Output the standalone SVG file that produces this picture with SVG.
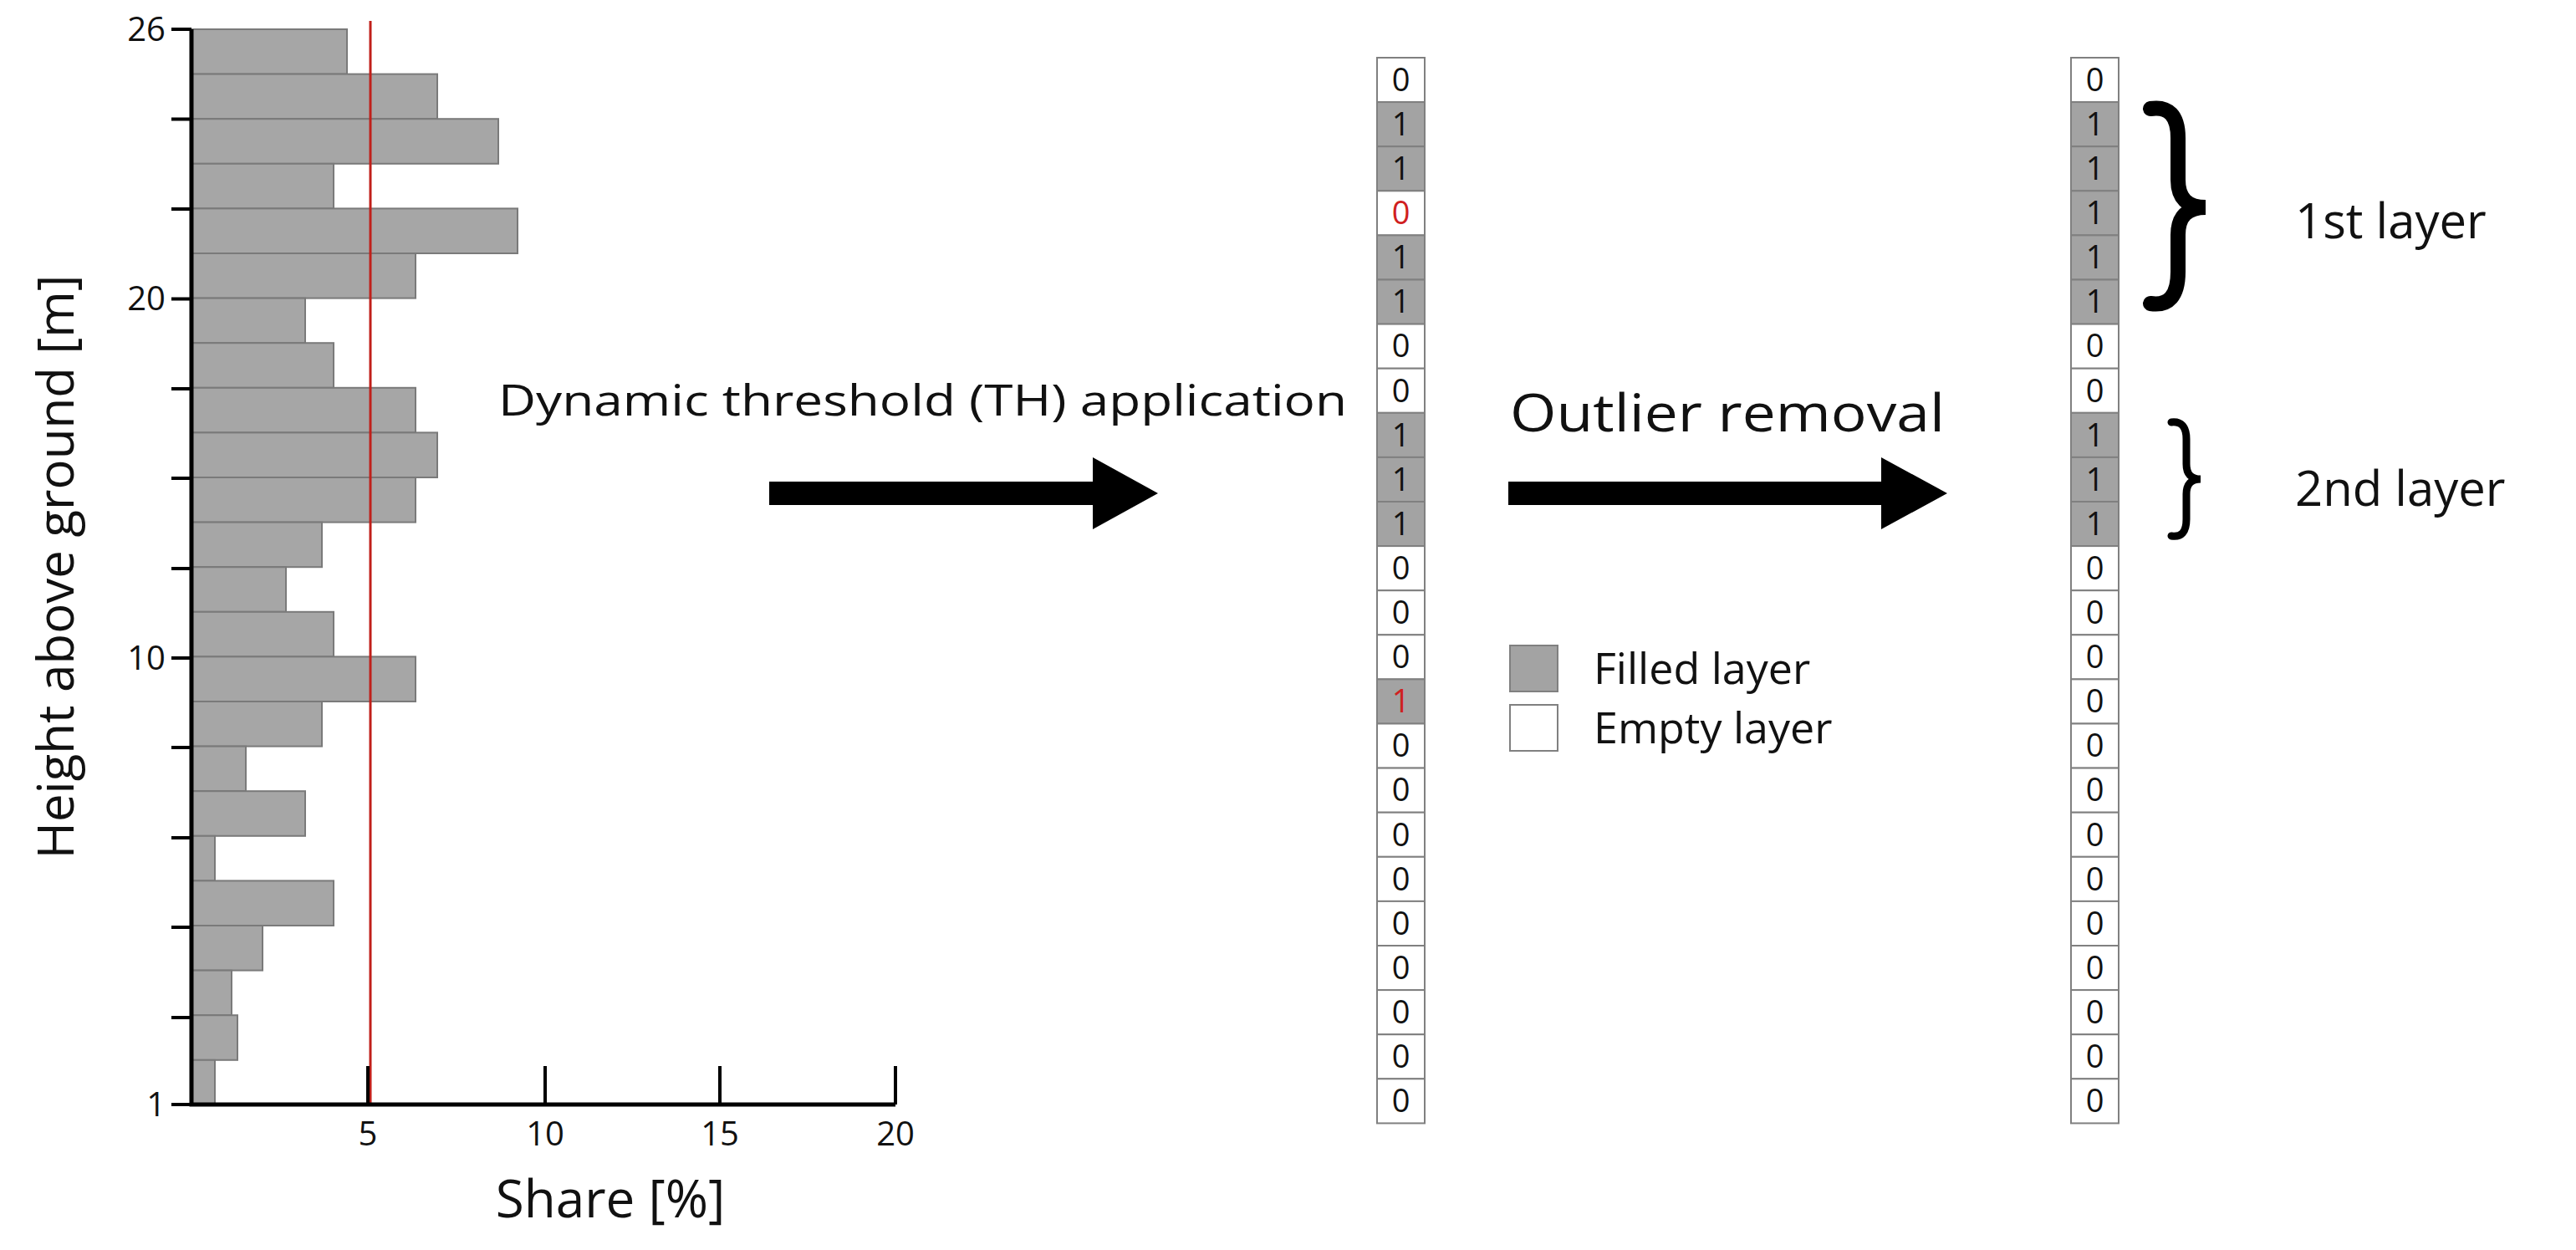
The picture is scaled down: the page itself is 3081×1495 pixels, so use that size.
<svg xmlns="http://www.w3.org/2000/svg" width="3081" height="1495" viewBox="0 0 3081 1495">
<style>
text{font-family:"Open Sans","Liberation Sans",sans-serif;fill:#111}
.bar{fill:#a6a6a6;stroke:#7a7a7a;stroke-width:2}
.ax{stroke:#000;stroke-width:5;fill:none}
.tk{font-size:40px}
.f{fill:#a3a3a3;stroke:#808080;stroke-width:2}
.e{fill:#fff;stroke:#808080;stroke-width:2}
.n{font-size:38px;text-anchor:middle}
.r{fill:#d02020}
.lab{font-size:58px}
</style>
<g id="chart">
<g id="bars">
<rect class="bar" x="229" y="35" width="186" height="53.6"/>
<rect class="bar" x="229" y="88.6" width="294" height="53.6"/>
<rect class="bar" x="229" y="142.2" width="367" height="53.6"/>
<rect class="bar" x="229" y="195.8" width="170" height="53.6"/>
<rect class="bar" x="229" y="249.4" width="390" height="53.6"/>
<rect class="bar" x="229" y="303" width="268" height="53.6"/>
<rect class="bar" x="229" y="356.6" width="136" height="53.6"/>
<rect class="bar" x="229" y="410.2" width="170" height="53.6"/>
<rect class="bar" x="229" y="463.8" width="268" height="53.6"/>
<rect class="bar" x="229" y="517.4" width="294" height="53.6"/>
<rect class="bar" x="229" y="571" width="268" height="53.6"/>
<rect class="bar" x="229" y="624.6" width="156" height="53.6"/>
<rect class="bar" x="229" y="678.2" width="113" height="53.6"/>
<rect class="bar" x="229" y="731.8" width="170" height="53.6"/>
<rect class="bar" x="229" y="785.4" width="268" height="53.6"/>
<rect class="bar" x="229" y="839" width="156" height="53.6"/>
<rect class="bar" x="229" y="892.6" width="65" height="53.6"/>
<rect class="bar" x="229" y="946.2" width="136" height="53.6"/>
<rect class="bar" x="229" y="999.8" width="28" height="53.6"/>
<rect class="bar" x="229" y="1053.4" width="170" height="53.6"/>
<rect class="bar" x="229" y="1107" width="85" height="53.6"/>
<rect class="bar" x="229" y="1160.6" width="48" height="53.6"/>
<rect class="bar" x="229" y="1214.2" width="55" height="53.6"/>
<rect class="bar" x="229" y="1267.8" width="28" height="53.6"/>
</g>
<line x1="443" y1="25" x2="443" y2="1321" stroke="#c0201a" stroke-width="3"/>
<path class="ax" d="M229 35V1321H1071"/>
<path stroke="#000" stroke-width="4" d="M205 35H229M205 142.5H229M205 250H229M205 357.5H229M205 465H229M205 572H229M205 680H229M205 787H229M205 894H229M205 1002H229M205 1109H229M205 1217H229M205 1321H229M440 1275V1321M652 1275V1321M861 1275V1321M1071 1275V1321"/>
<g class="tk" text-anchor="end">
<text x="198" y="49">26</text><text x="198" y="371">20</text><text x="198" y="801">10</text><text x="198" y="1335">1</text>
</g>
<g class="tk" text-anchor="middle">
<text x="440" y="1370">5</text><text x="652" y="1370">10</text><text x="861" y="1370">15</text><text x="1071" y="1370">20</text>
</g>
<text x="730" y="1456" font-size="62" text-anchor="middle">Share [%]</text>
<text transform="translate(88 678) rotate(-90)" font-size="60" text-anchor="middle">Height above ground [m]</text>
</g>
<g id="step1">
<text x="596" y="497" font-size="52" textLength="1015" lengthAdjust="spacingAndGlyphs">Dynamic threshold (TH) application</text>
</g>
<g id="connectors">
<polygon points="920,576 1307,576 1307,547 1385,590 1307,633 1307,604 920,604" fill="#000"/>
<polygon points="1804,576 2250,576 2250,547 2329,590 2250,633 2250,604 1804,604" fill="#000"/>
</g>
<g id="step2">
<text x="1806" y="516" font-size="62" textLength="520" lengthAdjust="spacingAndGlyphs">Outlier removal</text>
</g>
<g id="column1">
<rect class="e" x="1647" y="69" width="57" height="53.1"/><text class="n" x="1675.5" y="109">0</text>
<rect class="f" x="1647" y="122.1" width="57" height="53.1"/><text class="n" x="1675.5" y="162">1</text>
<rect class="f" x="1647" y="175.2" width="57" height="53.1"/><text class="n" x="1675.5" y="215">1</text>
<rect class="e" x="1647" y="228.3" width="57" height="53.1"/><text class="n r" x="1675.5" y="268">0</text>
<rect class="f" x="1647" y="281.4" width="57" height="53.1"/><text class="n" x="1675.5" y="321">1</text>
<rect class="f" x="1647" y="334.5" width="57" height="53.1"/><text class="n" x="1675.5" y="374">1</text>
<rect class="e" x="1647" y="387.6" width="57" height="53.1"/><text class="n" x="1675.5" y="427">0</text>
<rect class="e" x="1647" y="440.7" width="57" height="53.1"/><text class="n" x="1675.5" y="481">0</text>
<rect class="f" x="1647" y="493.8" width="57" height="53.1"/><text class="n" x="1675.5" y="534">1</text>
<rect class="f" x="1647" y="546.9" width="57" height="53.1"/><text class="n" x="1675.5" y="587">1</text>
<rect class="f" x="1647" y="600" width="57" height="53.1"/><text class="n" x="1675.5" y="640">1</text>
<rect class="e" x="1647" y="653.1" width="57" height="53.1"/><text class="n" x="1675.5" y="693">0</text>
<rect class="e" x="1647" y="706.2" width="57" height="53.1"/><text class="n" x="1675.5" y="746">0</text>
<rect class="e" x="1647" y="759.3" width="57" height="53.1"/><text class="n" x="1675.5" y="799">0</text>
<rect class="f" x="1647" y="812.4" width="57" height="53.1"/><text class="n r" x="1675.5" y="852">1</text>
<rect class="e" x="1647" y="865.5" width="57" height="53.1"/><text class="n" x="1675.5" y="905">0</text>
<rect class="e" x="1647" y="918.6" width="57" height="53.1"/><text class="n" x="1675.5" y="958">0</text>
<rect class="e" x="1647" y="971.7" width="57" height="53.1"/><text class="n" x="1675.5" y="1012">0</text>
<rect class="e" x="1647" y="1024.8" width="57" height="53.1"/><text class="n" x="1675.5" y="1065">0</text>
<rect class="e" x="1647" y="1077.9" width="57" height="53.1"/><text class="n" x="1675.5" y="1118">0</text>
<rect class="e" x="1647" y="1131" width="57" height="53.1"/><text class="n" x="1675.5" y="1171">0</text>
<rect class="e" x="1647" y="1184.1" width="57" height="53.1"/><text class="n" x="1675.5" y="1224">0</text>
<rect class="e" x="1647" y="1237.2" width="57" height="53.1"/><text class="n" x="1675.5" y="1277">0</text>
<rect class="e" x="1647" y="1290.3" width="57" height="53.1"/><text class="n" x="1675.5" y="1330">0</text>
</g>
<g id="column2">
<rect class="e" x="2477" y="69" width="57" height="53.1"/><text class="n" x="2505.5" y="109">0</text>
<rect class="f" x="2477" y="122.1" width="57" height="53.1"/><text class="n" x="2505.5" y="162">1</text>
<rect class="f" x="2477" y="175.2" width="57" height="53.1"/><text class="n" x="2505.5" y="215">1</text>
<rect class="f" x="2477" y="228.3" width="57" height="53.1"/><text class="n" x="2505.5" y="268">1</text>
<rect class="f" x="2477" y="281.4" width="57" height="53.1"/><text class="n" x="2505.5" y="321">1</text>
<rect class="f" x="2477" y="334.5" width="57" height="53.1"/><text class="n" x="2505.5" y="374">1</text>
<rect class="e" x="2477" y="387.6" width="57" height="53.1"/><text class="n" x="2505.5" y="427">0</text>
<rect class="e" x="2477" y="440.7" width="57" height="53.1"/><text class="n" x="2505.5" y="481">0</text>
<rect class="f" x="2477" y="493.8" width="57" height="53.1"/><text class="n" x="2505.5" y="534">1</text>
<rect class="f" x="2477" y="546.9" width="57" height="53.1"/><text class="n" x="2505.5" y="587">1</text>
<rect class="f" x="2477" y="600" width="57" height="53.1"/><text class="n" x="2505.5" y="640">1</text>
<rect class="e" x="2477" y="653.1" width="57" height="53.1"/><text class="n" x="2505.5" y="693">0</text>
<rect class="e" x="2477" y="706.2" width="57" height="53.1"/><text class="n" x="2505.5" y="746">0</text>
<rect class="e" x="2477" y="759.3" width="57" height="53.1"/><text class="n" x="2505.5" y="799">0</text>
<rect class="e" x="2477" y="812.4" width="57" height="53.1"/><text class="n" x="2505.5" y="852">0</text>
<rect class="e" x="2477" y="865.5" width="57" height="53.1"/><text class="n" x="2505.5" y="905">0</text>
<rect class="e" x="2477" y="918.6" width="57" height="53.1"/><text class="n" x="2505.5" y="958">0</text>
<rect class="e" x="2477" y="971.7" width="57" height="53.1"/><text class="n" x="2505.5" y="1012">0</text>
<rect class="e" x="2477" y="1024.8" width="57" height="53.1"/><text class="n" x="2505.5" y="1065">0</text>
<rect class="e" x="2477" y="1077.9" width="57" height="53.1"/><text class="n" x="2505.5" y="1118">0</text>
<rect class="e" x="2477" y="1131" width="57" height="53.1"/><text class="n" x="2505.5" y="1171">0</text>
<rect class="e" x="2477" y="1184.1" width="57" height="53.1"/><text class="n" x="2505.5" y="1224">0</text>
<rect class="e" x="2477" y="1237.2" width="57" height="53.1"/><text class="n" x="2505.5" y="1277">0</text>
<rect class="e" x="2477" y="1290.3" width="57" height="53.1"/><text class="n" x="2505.5" y="1330">0</text>
</g>
<g id="legend">
<rect class="f" x="1806" y="772" width="57" height="55"/>
<rect class="e" x="1806" y="843" width="57" height="55"/>
<text x="1906" y="818" font-size="52">Filled layer</text>
<text x="1906" y="889" font-size="52">Empty layer</text>
</g>
<g id="braces" fill="none" stroke="#000" stroke-linecap="round">
<path stroke-width="18" d="M2572 130Q2605 125 2605 165V215Q2605 248 2638 248Q2605 248 2605 281V325Q2605 368 2572 363"/>
<path stroke-width="9" d="M2597 505Q2615 503 2615 525V555Q2615 573 2632 573Q2615 573 2615 591V621Q2615 644 2597 641"/>
</g>
<g id="labels">
<text x="2745" y="285" class="lab">1st layer</text>
<text x="2745" y="605" class="lab">2nd layer</text>
</g>
</svg>
